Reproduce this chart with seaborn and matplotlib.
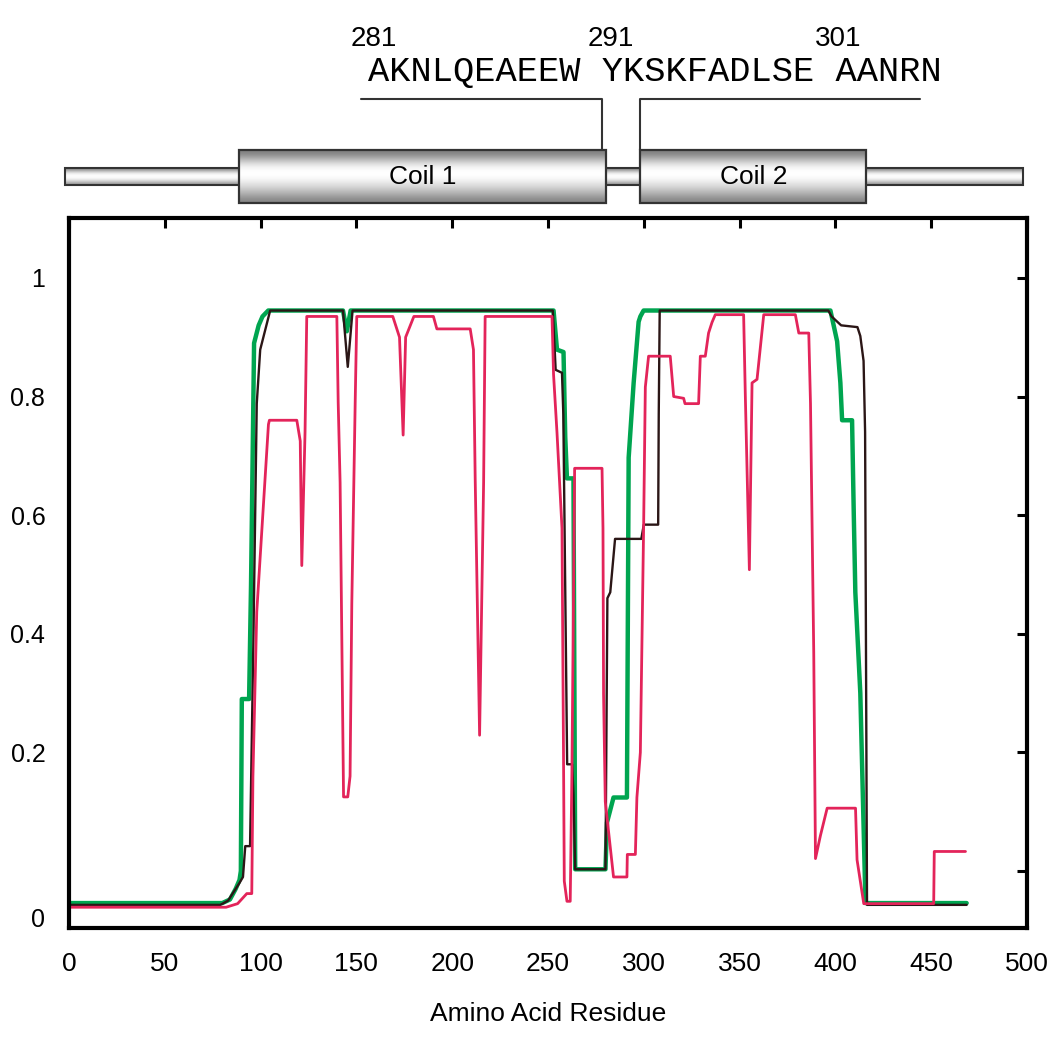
import matplotlib
matplotlib.use("Agg")
import matplotlib.pyplot as plt
import numpy as np
import pandas as pd
import seaborn as sns

# helicity per residue
green_x = [1, 80, 84, 87, 89, 89.7, 90.2, 94, 95, 96.6, 99, 101, 104, 143, 145, 147,
           252.9, 254.7, 258.1, 259, 259.9, 263.3, 264.2, 280, 280.8, 284.2, 291.2, 292.1,
           294.7, 297.3, 298.2, 299.9, 397.4, 400.9, 402.6, 403.5, 408.7, 409.6, 410.4,
           413, 415.7, 468.5]
green_y = [-0.054, -0.054, -0.048, -0.03, -0.015, 0.0, 0.29, 0.29, 0.48, 0.89, 0.92, 0.935,
           0.945, 0.945, 0.91, 0.945, 0.945, 0.879, 0.875, 0.732, 0.662, 0.662, 0.003, 0.003,
           0.082, 0.124, 0.124, 0.697, 0.823, 0.926, 0.935, 0.945, 0.945, 0.893, 0.823, 0.76,
           0.76, 0.60, 0.47, 0.30, -0.054, -0.054]

black_x = [1, 79, 83, 86, 89, 90.8, 92, 94.5, 96.2, 98, 99.8, 105, 143, 145.5, 148, 252.5,
           254, 257.3, 258, 260, 262.6, 263.3, 264.2, 280, 281, 282.5, 285, 298.7, 300, 307.5,
           307.8, 308.3, 396.3, 398, 403, 411.5, 413, 414.7, 415.5, 416.5, 468.5]
black_y = [-0.057, -0.057, -0.05, -0.035, -0.02, -0.01, 0.042, 0.042, 0.38, 0.788, 0.879,
           0.945, 0.945, 0.85, 0.945, 0.945, 0.845, 0.84, 0.77, 0.18, 0.18, 0.13, 0.003, 0.003,
           0.46, 0.47, 0.56, 0.56, 0.584, 0.584, 0.77, 0.945, 0.945, 0.935, 0.92, 0.917, 0.902,
           0.86, 0.74, -0.057, -0.057]

red_x = [1, 82, 88, 92.8, 95.4, 96, 98, 104.1, 104.6, 118.9, 120.7, 121.5, 123.2, 124.1,
         139.8, 140.5, 141.5, 143.3, 145.5, 146.7, 147.6, 149.4, 150.2, 169, 172.5, 174.4,
         175.7, 180, 190.2, 192, 209.4, 211.1, 212, 214.3, 216.4, 217.2, 252.1, 252.9, 254.7,
         257.3, 258.1, 258.5, 259.9, 261.6, 262.5, 263.9, 278.2, 278.7, 279, 279.9, 284.2,
         291.2, 291.4, 295.6, 296.4, 298.2, 299.9, 300.8, 302.5, 313.8, 315.6, 320.8, 321.5,
         328.6, 329.5, 332.1, 333.8, 335.6, 337.3, 352.1, 353, 355.1, 356.5, 359.1, 362.6,
         379.1, 380.9, 386.1, 387, 388.7, 389.6, 392.2, 395.7, 410.5, 411.3, 414.8, 451.3,
         451.6, 467.9]
red_y = [-0.061, -0.061, -0.055, -0.038, -0.038, 0.159, 0.437, 0.753, 0.76, 0.76, 0.725,
         0.515, 0.74, 0.935, 0.935, 0.79, 0.655, 0.125, 0.125, 0.16, 0.45, 0.795, 0.935, 0.935,
         0.9, 0.735, 0.9, 0.935, 0.935, 0.914, 0.914, 0.879, 0.662, 0.229, 0.655, 0.935, 0.935,
         0.837, 0.739, 0.578, 0.194, -0.017, -0.051, -0.051, 0.17, 0.679, 0.679, 0.578, 0.298,
         0.117, -0.01, -0.01, 0.028, 0.028, 0.124, 0.2, 0.578, 0.816, 0.868, 0.868, 0.8, 0.797,
         0.788, 0.788, 0.868, 0.868, 0.907, 0.925, 0.938, 0.938, 0.8, 0.508, 0.823, 0.829,
         0.938, 0.938, 0.907, 0.907, 0.788, 0.368, 0.021, 0.06, 0.106, 0.106, 0.019, -0.055,
         -0.055, 0.033, 0.033]

# domain diagram above the plot (residue numbers)
coil_names = ["Coil 1", "Coil 2"]
coil_start = [88.8, 298.2]
coil_end = [280.4, 416.2]
bar_start, bar_end = -2.0, 497.7
bracket_1 = [152.5, 278.3]
bracket_2 = [298.2, 443.9]
seq_text = "AKNLQEAEEW YKSKFADLSE AANRN"
seq_numbers = ["281", "291", "301"]
seq_number_x = [159.0, 282.6, 401.3]

x_ticks = [0, 50, 100, 150, 200, 250, 300, 350, 400, 450, 500]
y_ticks = [0.2, 0.4, 0.6, 0.8, 1.0]
y_tick_labels = ["0.2", "0.4", "0.6", "0.8", "1"]

sns.set_style("white")
narrow = ["Liberation Sans Narrow", "Liberation Sans", "DejaVu Sans"]
plt.rcParams["font.family"] = ["Liberation Sans", "DejaVu Sans"]
plt.rcParams["text.color"] = "black"
plt.rcParams["axes.labelcolor"] = "black"
plt.rcParams["xtick.color"] = "black"
plt.rcParams["ytick.color"] = "black"

fig = plt.figure(figsize=(10.5, 10.4), dpi=100)
ax = fig.add_axes([0.0657, 0.1077, 0.9124, 0.6827])

green = pd.DataFrame({"residue": green_x, "value": green_y})
black = pd.DataFrame({"residue": black_x, "value": black_y})
red = pd.DataFrame({"residue": red_x, "value": red_y})
sns.lineplot(data=green, x="residue", y="value", color="#00a550", linewidth=3.2,
             estimator=None, sort=False, ax=ax)
sns.lineplot(data=black, x="residue", y="value", color="#2b1616", linewidth=1.7,
             estimator=None, sort=False, ax=ax)
sns.lineplot(data=red, x="residue", y="value", color="#e3245a", linewidth=2.0,
             estimator=None, sort=False, ax=ax)

ax.set_xlim(0, 500)
ax.set_ylim(-0.096, 1.101)
ax.set_xticks(x_ticks)
ax.set_xticklabels([str(t) for t in x_ticks], family=narrow, fontsize=19)
ax.set_yticks(y_ticks)
ax.set_yticklabels(y_tick_labels, fontsize=18)
ax.set_yticks([0.0], minor=True)
ax.tick_params(axis="both", which="major", direction="in", length=7, width=2.2,
               top=True, right=True, pad=17, colors="black")
ax.tick_params(axis="y", which="minor", direction="in", length=7, width=2.2,
               left=False, right=True)
ax.text(-0.025, -0.083, "0", transform=ax.get_yaxis_transform(), ha="right",
        va="center", fontsize=18, color="black")
for s in ax.spines.values():
    s.set_linewidth(3)
    s.set_color("black")
ax.set_ylabel("")
ax.set_xlabel("Amino Acid Residue", family=narrow, fontsize=19, color="black")
ax.xaxis.set_label_coords(0.5, -0.104)

# coil diagram
top = fig.add_axes([0.0657, 1 - 215 / 1040, 0.9124, 215 / 1040])
top.axis("off")
top.patch.set_alpha(0)

bar_shade = np.array([0.55, 0.8, 0.97, 1.0, 0.95, 0.8, 0.6]).reshape(-1, 1)
coil_shade = np.array([0.5, 0.62, 0.78, 0.92, 0.99, 1.0, 0.97, 0.9, 0.82, 0.72, 0.62,
                       0.52]).reshape(-1, 1)
top.imshow(bar_shade, extent=[bar_start, bar_end, 30, 47], cmap="gray", vmin=0, vmax=1,
           aspect="auto", interpolation="bicubic", clip_on=False)
top.add_patch(plt.Rectangle((bar_start, 30), bar_end - bar_start, 17, fill=False,
                            edgecolor="#333333", linewidth=1.5, clip_on=False))
for name, x0, x1 in zip(coil_names, coil_start, coil_end):
    top.imshow(coil_shade, extent=[x0, x1, 12, 65], cmap="gray", vmin=0, vmax=1,
               aspect="auto", interpolation="bicubic", zorder=3)
    top.add_patch(plt.Rectangle((x0, 12), x1 - x0, 53, fill=False, edgecolor="#333333",
                                linewidth=1.6, zorder=4))
    top.text((x0 + x1) / 2, 38, name, ha="center", va="center", family=narrow,
             fontsize=19, zorder=5)
top.set_xlim(0, 500)
top.set_ylim(0, 215)

top.plot([bracket_1[0], bracket_1[1], bracket_1[1]], [116, 116, 65], color="#333333",
         linewidth=1.5)
top.plot([bracket_2[0], bracket_2[0], bracket_2[1]], [65, 116, 116], color="#333333",
         linewidth=1.5)
top.text(156.3, 143, seq_text, ha="left", va="center", family="Liberation Mono",
         fontsize=25.5)
for lab, xp in zip(seq_numbers, seq_number_x):
    top.text(xp, 176, lab, ha="center", va="center", family=narrow, fontsize=20)

fig.savefig("out.png", dpi=100)
